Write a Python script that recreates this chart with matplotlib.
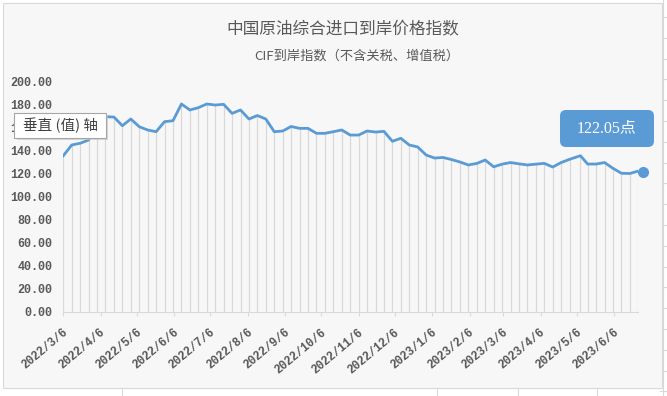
import matplotlib
matplotlib.use('Agg')
import matplotlib.pyplot as plt
import matplotlib.transforms as mtransforms
from matplotlib.patches import Rectangle, FancyBboxPatch
import pandas as pd

# weekly CIF index readings
dates = ['2022-03-06', '2022-03-13', '2022-03-20', '2022-03-27', '2022-04-03', '2022-04-10',
         '2022-04-17', '2022-04-24', '2022-05-01', '2022-05-08', '2022-05-15', '2022-05-22',
         '2022-05-29', '2022-06-05', '2022-06-12', '2022-06-19', '2022-06-26', '2022-07-03',
         '2022-07-10', '2022-07-17', '2022-07-24', '2022-07-31', '2022-08-07', '2022-08-14',
         '2022-08-21', '2022-08-28', '2022-09-04', '2022-09-11', '2022-09-18', '2022-09-25',
         '2022-10-02', '2022-10-09', '2022-10-16', '2022-10-23', '2022-10-30', '2022-11-06',
         '2022-11-13', '2022-11-20', '2022-11-27', '2022-12-04', '2022-12-11', '2022-12-18',
         '2022-12-25', '2023-01-01', '2023-01-08', '2023-01-15', '2023-01-22', '2023-01-29',
         '2023-02-05', '2023-02-12', '2023-02-19', '2023-02-26', '2023-03-05', '2023-03-12',
         '2023-03-19', '2023-03-26', '2023-04-02', '2023-04-09', '2023-04-16', '2023-04-23',
         '2023-04-30', '2023-05-09', '2023-05-15', '2023-05-22', '2023-05-29', '2023-06-05',
         '2023-06-12', '2023-06-19', '2023-06-26']
values = [135.3, 144.6, 146.1, 148.9, 164.5, 169.1, 168.8, 161.3, 167.1, 160.4,
          157.6, 156.1, 164.8, 165.6, 180.1, 174.9, 176.9, 180.1, 179.2, 179.8,
          172.0, 174.9, 167.1, 170.1, 167.1, 156.1, 156.7, 160.6, 159.0, 159.0,
          154.7, 154.7, 156.1, 157.6, 153.2, 153.2, 156.7, 155.8, 156.4, 147.8,
          150.4, 144.6, 142.9, 135.9, 133.3, 133.8, 132.0, 129.9, 127.3, 128.6,
          131.6, 125.7, 128.0, 129.4, 128.3, 127.3, 128.0, 128.7, 125.5, 129.4,
          132.2, 135.3, 128.1, 128.1, 129.4, 124.4, 120.1, 119.9, 122.05]

tick_labels = ['2022/3/6', '2022/4/6', '2022/5/6', '2022/6/6', '2022/7/6', '2022/8/6',
               '2022/9/6', '2022/10/6', '2022/11/6', '2022/12/6', '2023/1/6', '2023/2/6',
               '2023/3/6', '2023/4/6', '2023/5/6', '2023/6/6']
y_ticks = [0, 20, 40, 60, 80, 100, 120, 140, 160, 180, 200]

title = '中国原油综合进口到岸价格指数'
subtitle = 'CIF到岸指数（不含关税、增值税）'
callout = '122.05点'
axis_tip = '垂直 (值) 轴'

cjk = ['Noto Sans CJK SC', 'DejaVu Sans']
num_font = ['Liberation Mono', 'Noto Sans CJK SC']
blue = '#5b9bd5'
grey_txt = '#595959'
W, H = 667, 396

x = pd.to_datetime(dates)
ticks = pd.to_datetime(tick_labels, format='%Y/%m/%d')

fig = plt.figure(figsize=(W / 100, H / 100), dpi=100, facecolor='white')
inch = fig.dpi_scale_trans


def px(xp, yp):
    # pixel from top-left -> inches from bottom-left
    return xp / 100, (H - yp) / 100


# chart frame
fx, fy = px(3, 388)
fig.add_artist(Rectangle((fx, fy), 659 / 100, 385 / 100, transform=inch,
                         facecolor='#f7f7f7', edgecolor='#d9d9d9', lw=0.8, zorder=-2))
# sheet grid peeking out at right / bottom
fig.add_artist(plt.Line2D([663 / W, 663 / W], [0, 1], color='#d9d9d9', lw=0.8, zorder=-3))
for k in range(19):
    yy = 1 - (17 + 20.8 * k) / H
    fig.add_artist(plt.Line2D([660 / W, 667 / W], [yy, yy], color='#d9d9d9', lw=0.8, zorder=-3))
for xc in [122, 437, 518, 597]:
    fig.add_artist(plt.Line2D([xc / W, xc / W], [0, 8 / H], color='#d9d9d9', lw=0.8, zorder=-3))

ax = fig.add_axes([63.3 / W, 84 / H, 575 / W, 231 / H])
ax.set_facecolor('none')

ax.vlines(x, 0, values, color='#d9d9d9', lw=0.9, zorder=1)
ax.plot(x, values, color=blue, lw=2.0, solid_joinstyle='round', zorder=3)
shift = mtransforms.ScaledTranslation(5 / 100, -1 / 100, inch)
ax.plot(x[-1:], values[-1:], 'o', color=blue, ms=7, mec=blue, clip_on=False, zorder=4,
        transform=ax.transData + shift)

ax.set_xlim(x[0], x[-1])
ax.set_ylim(0, 200)
ax.set_yticks(y_ticks)
ax.set_yticklabels([f'{v:.2f}' for v in y_ticks], family=num_font, fontsize=8.5,
                   fontweight='bold', color=grey_txt)
ax.tick_params(axis='y', length=0, pad=8)

ax.set_xticks(ticks)
ax.set_xticklabels(tick_labels, family=num_font, fontsize=8.5, fontweight='bold', color=grey_txt,
                   rotation=40, ha='right', va='center', rotation_mode='anchor')
ax.tick_params(axis='x', length=3, width=0.8, color='#d9d9d9', direction='out', pad=10.5)
xshift = mtransforms.ScaledTranslation(3 / 100, 0, inch)
for lab in ax.get_xticklabels():
    lab.set_transform(lab.get_transform() + xshift)

for side in ['left', 'right', 'top']:
    ax.spines[side].set_visible(False)
ax.spines['bottom'].set_color('#d9d9d9')
ax.spines['bottom'].set_linewidth(0.8)

fig.text(343 / W, 1 - 30 / H, title, family=cjk, fontsize=12, color=grey_txt,
         ha='center', va='center')
fig.text(357 / W, 1 - 56 / H, subtitle, family=cjk, fontsize=9.5, color=grey_txt,
         ha='center', va='center')

# value callout
bx, by = px(560, 147)
fig.add_artist(FancyBboxPatch((bx, by), 0.94, 0.37, transform=inch,
                              boxstyle='round,pad=0,rounding_size=0.06',
                              facecolor=blue, edgecolor='none', zorder=5))
fig.text(607 / W, 1 - 128.5 / H, callout, family=['Liberation Serif', 'Noto Sans CJK SC'],
         fontsize=11.5, color='white', ha='center', va='center', zorder=6)

# axis tooltip
sx, sy = px(17, 140)
fig.add_artist(Rectangle((sx, sy), 0.91, 0.25, transform=inch,
                         facecolor='#c8c8c8', edgecolor='none', alpha=0.7, zorder=5))
tx, ty = px(14, 138)
fig.add_artist(Rectangle((tx, ty), 0.92, 0.25, transform=inch,
                         facecolor='white', edgecolor='#a6a6a6', lw=0.8, zorder=6))
fig.text(60 / W, 1 - 125.5 / H, axis_tip, family=cjk, fontsize=10.5, color='#404040',
         ha='center', va='center', zorder=7)

fig.savefig('out.png', dpi=100, facecolor='white')
